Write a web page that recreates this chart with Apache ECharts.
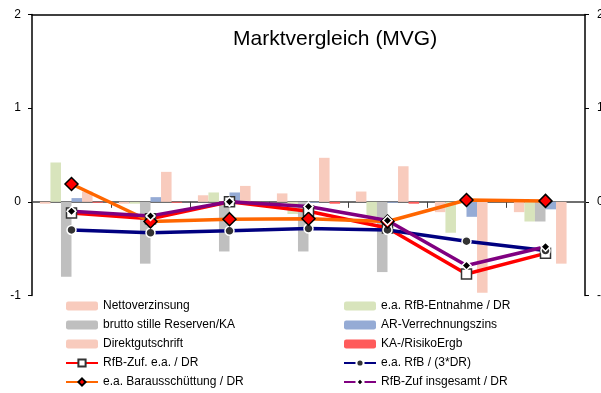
<!DOCTYPE html>
<html>
<head>
<meta charset="utf-8">
<script src="https://cdn.jsdelivr.net/npm/echarts@6/dist/echarts.min.js"></script>
<style>
html,body{margin:0;padding:0;background:#fff;}
#chart{width:601px;height:393px;}
</style>
</head>
<body>
<div id="chart"></div>
<script>
// categories (no visible labels)
var categories = ['1', '2', '3', '4', '5', '6', '7'];
var yTicks = [-1, 0, 1, 2];

// bar series
var nettoverzinsung   = [-0.02, -0.02, 0.07, 0.09, 0.11, -0.11, -0.11];
var rfbEntnahme       = [0.42, -0.02, 0.10, -0.13, -0.16, -0.33, -0.21];
var bruttoReserven    = [-0.80, -0.66, -0.53, -0.53, -0.75, 0.00, -0.21];
var arVerrechnung     = [0.04, 0.05, 0.10, -0.01, -0.01, -0.16, -0.08];
var direktgutschrift  = [0.11, 0.32, 0.17, 0.47, 0.38, -0.97, -0.66];
var kaRisiko          = [-0.01, -0.01, -0.01, -0.02, -0.02, 0.00, 0.00];

// line series
var rfbZufEa          = [-0.12, -0.18, 0.00, -0.10, -0.28, -0.77, -0.55];
var eaRfb3DR          = [-0.30, -0.33, -0.31, -0.285, -0.30, -0.42, -0.52];
var barausschuettung  = [0.19, -0.21, -0.185, -0.18, -0.21, 0.02, 0.01];
var rfbZufInsgesamt   = [-0.10, -0.15, 0.00, -0.05, -0.20, -0.68, -0.48];

var FONT = 'Liberation Sans, Arial, sans-serif';

function barSeries(name, data, color) {
  return {
    name: name, type: 'bar', data: data,
    xAxisIndex: 0, yAxisIndex: 0,
    barGap: '0%', barCategoryGap: '20%',
    itemStyle: { color: color },
    z: 2
  };
}
function lineSeries(name, data, lineColor, symbol, size, fill, border) {
  return {
    name: name, type: 'line', data: data,
    xAxisIndex: 0, yAxisIndex: 0,
    symbol: symbol, symbolSize: size, showAllSymbol: true,
    lineStyle: { color: lineColor, width: 3.5 },
    itemStyle: { color: fill, borderColor: border, borderWidth: 1.5 },
    z: 5
  };
}

var legendText = { fontFamily: FONT, fontSize: 12, color: '#000' };

var chart = echarts.init(document.getElementById('chart'), null, { renderer: 'canvas' });
chart.setOption({
  animation: false,
  backgroundColor: '#fff',
  title: {
    text: 'Marktvergleich (MVG)',
    left: 233, top: 29, padding: 0,
    textStyle: { fontFamily: FONT, fontSize: 21, fontWeight: 'normal', color: '#000' }
  },
  legend: [
    {
      orient: 'vertical', left: 65, top: 300, padding: 0,
      itemWidth: 32, itemHeight: 9, itemGap: 7,
      textStyle: legendText,
      data: ['Nettoverzinsung', 'brutto stille Reserven/KA', 'Direktgutschrift', 'RfB-Zuf. e.a. / DR', 'e.a. Barausschüttung / DR']
    },
    {
      orient: 'vertical', left: 343, top: 300, padding: 0,
      itemWidth: 32, itemHeight: 9, itemGap: 7,
      textStyle: legendText,
      data: ['e.a. RfB-Entnahme / DR', 'AR-Verrechnungszins', 'KA-/RisikoErgb', 'e.a. RfB / (3*DR)', 'RfB-Zuf insgesamt / DR']
    }
  ],
  grid: { left: 32, right: 16, top: 14.5, bottom: 97.5, containLabel: false, outerBoundsMode: 'none' },
  xAxis: [
    {
      type: 'category', data: categories, position: 'bottom',
      axisLine: { show: true, onZero: true, lineStyle: { color: '#404040', width: 1.5 } },
      axisTick: { show: true, inside: false, length: 6, interval: 0, lineStyle: { color: '#404040' } },
      axisLabel: { show: false },
      splitLine: { show: false }
    },
    {
      type: 'category', data: categories, position: 'top',
      axisLine: { show: true, onZero: false, lineStyle: { color: '#000', width: 1.5 } },
      axisTick: { show: false },
      axisLabel: { show: false },
      splitLine: { show: false }
    }
  ],
  yAxis: [
    {
      type: 'value', position: 'left', min: yTicks[0], max: yTicks[yTicks.length - 1], interval: 1,
      axisLine: { show: true, lineStyle: { color: '#000', width: 1.5 } },
      axisTick: { show: true, inside: false, length: 4, lineStyle: { color: '#000' } },
      axisLabel: { fontFamily: FONT, fontSize: 12, color: '#000', margin: 11 },
      splitLine: { show: false }
    },
    {
      type: 'value', position: 'right', min: yTicks[0], max: yTicks[yTicks.length - 1], interval: 1,
      axisLine: { show: true, lineStyle: { color: '#000', width: 1.5 } },
      axisTick: { show: true, inside: false, length: 4, lineStyle: { color: '#000' } },
      axisLabel: { fontFamily: FONT, fontSize: 12, color: '#000', margin: 12 },
      splitLine: { show: false }
    }
  ],
  series: [
    barSeries('Nettoverzinsung', nettoverzinsung, '#F8CBBD'),
    barSeries('e.a. RfB-Entnahme / DR', rfbEntnahme, '#D8E4BC'),
    barSeries('brutto stille Reserven/KA', bruttoReserven, '#BFBFBF'),
    barSeries('AR-Verrechnungszins', arVerrechnung, '#95ABD5'),
    barSeries('Direktgutschrift', direktgutschrift, '#F8CBBD'),
    barSeries('KA-/RisikoErgb', kaRisiko, '#FF5B5B'),
    lineSeries('RfB-Zuf. e.a. / DR', rfbZufEa, '#FF0000', 'rect', 10, '#FFFFFF', '#333333'),
    lineSeries('e.a. RfB / (3*DR)', eaRfb3DR, '#000080', 'circle', 9, '#333333', '#FFFFFF'),
    lineSeries('e.a. Barausschüttung / DR', barausschuettung, '#FF6600', 'diamond', 13, '#FF0000', '#000000'),
    lineSeries('RfB-Zuf insgesamt / DR', rfbZufInsgesamt, '#800080', 'diamond', 9, '#000000', '#FFFFFF')
  ]
});
</script>
</body>
</html>
